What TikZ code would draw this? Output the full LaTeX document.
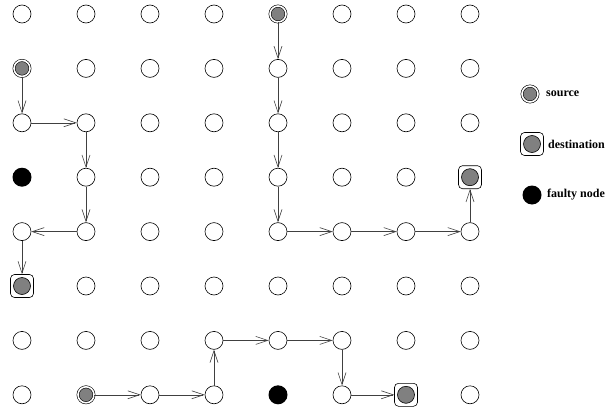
\documentclass[tikz,border=0pt]{standalone}
\usepackage{fontspec}
\setmainfont{Liberation Serif}
\usetikzlibrary{arrows.meta}
\tikzset{
  plain/.style={circle, draw, line width=0.6pt, minimum size=18pt, inner sep=0pt},
  src/.style={circle, draw, line width=0.6pt, double=white, double distance=1.6pt, fill=gray, minimum size=16pt, inner sep=0pt},
  dst/.style={rectangle, rounded corners=4pt, draw, line width=0.6pt, minimum size=23pt, inner sep=0pt,
    path picture={\draw[line width=0.6pt, fill=gray, sharp corners] (path picture bounding box.center) circle (8.5pt);}},
  faulty/.style={circle, fill=black, minimum size=19pt, inner sep=0pt},
  arr/.style={draw=black!75, line width=0.6pt, -{Straight Barb[length=12pt,width=8pt]}},
  legtext/.style={anchor=west, inner sep=0pt, font=\bfseries\fontsize{12}{14}\selectfont}
}
\begin{document}
\begin{tikzpicture}[x=1pt, y=1pt]
\useasboundingbox (0,0) rectangle (607,408);
% plain grid nodes
\foreach \i in {0,...,7}{
  \foreach \j in {0,...,7}{
    \pgfmathtruncatemacro\c{10*\i+\j}
    \pgfmathtruncatemacro\sk{(\c==1)||(\c==40)||(\c==17)||(\c==5)||(\c==73)||(\c==67)||(\c==3)||(\c==47)}
    \ifnum\sk=0
      \node[plain] (n\i\j) at ({22+64*\i},{394-54.4*\j}) {};
    \fi
  }
}
% sources
\node[src] (n01) at ({22+64*0},{394-54.4*1}) {};
\node[src] (n40) at ({22+64*4},{394-54.4*0}) {};
\node[src] (n17) at ({22+64*1},{394-54.4*7}) {};
% destinations
\node[dst] (n05) at ({22+64*0},{394-54.4*5}) {};
\node[dst] (n73) at ({22+64*7},{394-54.4*3}) {};
\node[dst] (n67) at ({22+64*6},{394-54.4*7}) {};
% faulty nodes
\node[faulty] (n03) at ({22+64*0},{394-54.4*3}) {};
\node[faulty] (n47) at ({22+64*4},{394-54.4*7}) {};
% path 1
\draw[arr] (n01) -- (n02);
\draw[arr] (n02) -- (n12);
\draw[arr] (n12) -- (n13);
\draw[arr] (n13) -- (n14);
\draw[arr] (n14) -- (n04);
\draw[arr] (n04) -- (n05);
% path 2
\draw[arr] (n40) -- (n41);
\draw[arr] (n41) -- (n42);
\draw[arr] (n42) -- (n43);
\draw[arr] (n43) -- (n44);
\draw[arr] (n44) -- (n54);
\draw[arr] (n54) -- (n64);
\draw[arr] (n64) -- (n74);
\draw[arr] (n74) -- (n73);
% path 3
\draw[arr] (n17) -- (n27);
\draw[arr] (n27) -- (n37);
\draw[arr] (n37) -- (n36);
\draw[arr] (n36) -- (n46);
\draw[arr] (n46) -- (n56);
\draw[arr] (n56) -- (n57);
\draw[arr] (n57) -- (n67);
% legend
\node[src] (lsrc) at (530,314) {};
\node[legtext] (tsrc) at (546,314) {source};
\node[dst] (ldst) at (532,264) {};
\node[legtext] (tdst) at (548,264) {destination};
\node[faulty] (lfault) at (532,213) {};
\node[legtext] (tfault) at (547,213) {faulty node};
\end{tikzpicture}
\end{document}
